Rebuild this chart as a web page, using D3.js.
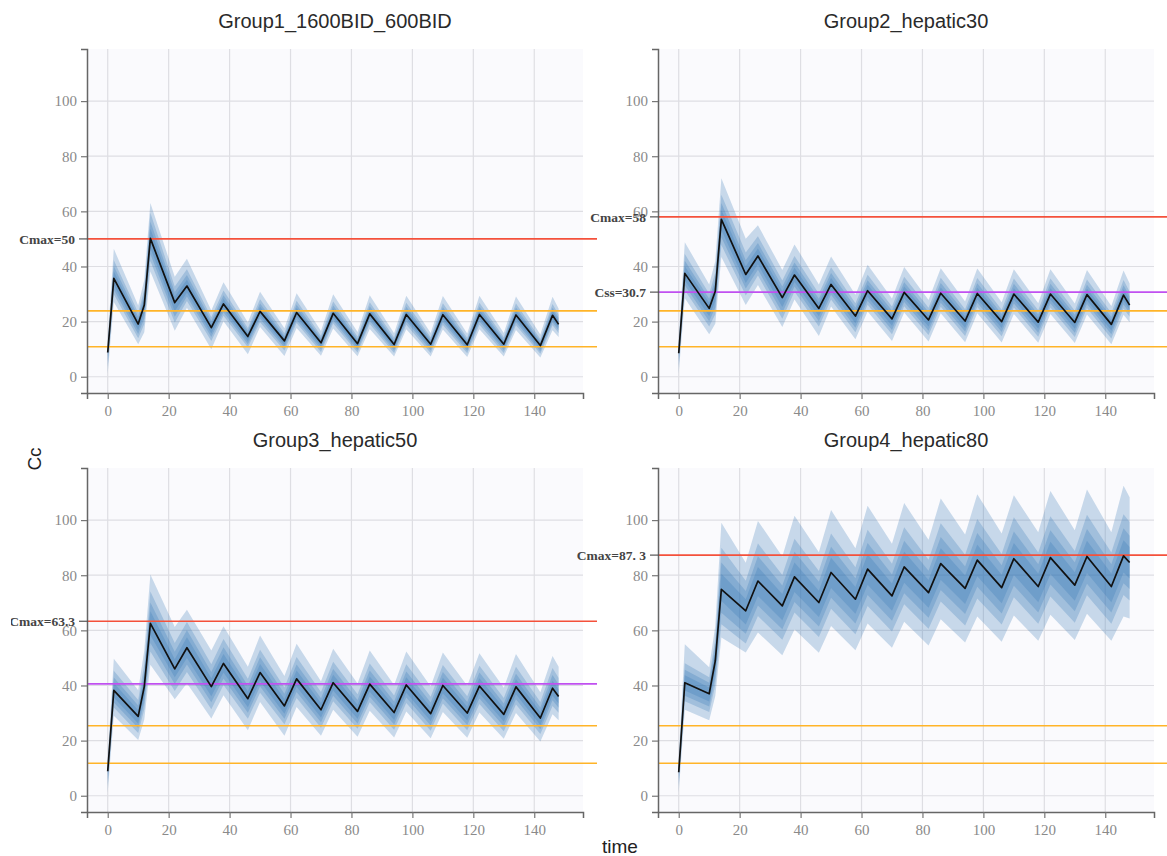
<!DOCTYPE html>
<html>
<head>
<meta charset="utf-8">
<script src="https://cdn.jsdelivr.net/npm/d3@7"></script>
<style>
  body { margin: 0; background: #ffffff; }
  svg { display: block; }
</style>
</head>
<body>
<svg id="chart" width="1167" height="856"></svg>
<script>
// ---- Data -------------------------------------------------------------
const times = [0, 2, 10, 12, 14, 22, 26, 34, 38, 46, 50, 58, 62, 70, 74, 82, 86, 94, 98, 106, 110, 118, 122, 130, 134, 142, 146, 148];
const xTicks = [0, 20, 40, 60, 80, 100, 120, 140];
const yTicks = [0, 20, 40, 60, 80, 100];
const panelTitles = ["Group1_1600BID_600BID", "Group2_hepatic30", "Group3_hepatic50", "Group4_hepatic80"];

// Group 1
const g1Q50 = [8.8, 35.7, 19.1, 26, 50.2, 26.9, 32.9, 17.8, 26.4, 14.6, 23.7, 13.0, 23.3, 12.3, 23.0, 12.0, 22.8, 11.7, 22.6, 11.8, 22.5, 11.6, 22.6, 11.8, 22.4, 11.3, 22.3, 19.0];
const g1Q95 = [14, 46.4, 25.8, 35.1, 63, 36.3, 42.8, 24.0, 34.3, 19.7, 30.8, 17.6, 30.3, 16.6, 29.9, 16.2, 29.6, 15.8, 29.4, 15.9, 29.3, 15.7, 29.4, 15.9, 29.1, 15.3, 29.0, 24.7];
const g1Q85 = [12, 42.3, 23.2, 31.6, 59.5, 32.7, 39.0, 21.6, 31.3, 17.7, 28.1, 15.8, 27.6, 14.9, 27.3, 14.6, 27.0, 14.2, 26.8, 14.3, 26.7, 14.1, 26.8, 14.3, 26.6, 13.7, 26.4, 22.5];
const g1Q75 = [10.5, 40.1, 21.8, 29.7, 56.3, 30.7, 36.9, 20.3, 29.6, 16.7, 26.6, 14.8, 26.1, 14.0, 25.8, 13.7, 25.6, 13.3, 25.4, 13.5, 25.2, 13.2, 25.4, 13.5, 25.1, 12.9, 25.0, 21.3];
const g1Q60 = [9.7, 38.2, 20.6, 28.1, 53.7, 29.1, 35.2, 19.2, 28.2, 15.8, 25.4, 14.1, 24.9, 13.3, 24.6, 13.0, 24.4, 12.6, 24.2, 12.8, 24.1, 12.5, 24.2, 12.8, 24.0, 12.2, 23.9, 20.3];
const g1Q40 = [7.3, 33.2, 16.9, 23.0, 46.7, 23.8, 30.6, 15.7, 24.6, 12.9, 22.1, 11.5, 21.7, 10.9, 21.4, 10.6, 21.2, 10.3, 21.0, 10.4, 20.9, 10.2, 21.0, 10.4, 20.9, 10.0, 20.8, 17.7];
const g1Q25 = [5.5, 31.6, 15.5, 21.1, 44.5, 21.8, 29.1, 14.4, 23.4, 11.8, 21.0, 10.5, 20.6, 10.0, 20.4, 9.7, 20.2, 9.5, 20.0, 9.6, 19.9, 9.4, 20.0, 9.6, 19.8, 9.2, 19.8, 16.8];
const g1Q15 = [3.5, 29.9, 14.0, 19.1, 42.0, 19.7, 27.5, 13.0, 22.1, 10.7, 19.8, 9.5, 19.5, 9.0, 19.3, 8.8, 19.1, 8.6, 18.9, 8.6, 18.8, 8.5, 18.9, 8.6, 18.7, 8.3, 18.7, 15.9];
const g1Q05 = [1.3, 27.1, 11.8, 16.1, 38.2, 16.7, 25.0, 10.0, 20.1, 8.2, 18.0, 7.5, 17.7, 7.6, 17.5, 7.4, 17.3, 7.3, 17.2, 7.3, 17.1, 7.2, 17.2, 7.3, 17.0, 7.0, 16.9, 14.4];

// Group 2
const g2Q50 = [8.5, 37.5, 24.8, 31, 57.1, 37.1, 43.8, 28.7, 36.9, 24.8, 33.5, 22.0, 31.2, 21.0, 30.6, 20.6, 30.3, 20.2, 30.2, 20.0, 30.0, 19.8, 30.0, 19.7, 29.8, 19.0, 29.6, 26.0];
const g2Q95 = [14, 48.8, 33.5, 41.9, 72, 50.1, 55, 38.7, 48.0, 33.5, 43.6, 29.7, 40.6, 28.4, 39.8, 27.8, 39.4, 27.3, 39.3, 27.0, 39.0, 26.7, 39.0, 26.6, 38.7, 25.7, 38.5, 33.8];
const g2Q85 = [12, 44.5, 30.1, 37.7, 66, 45.1, 51, 34.9, 43.8, 30.1, 39.7, 26.7, 37.0, 25.5, 36.3, 25.0, 35.9, 24.5, 35.8, 24.3, 35.6, 24.1, 35.6, 23.9, 35.3, 23.1, 35.1, 30.8];
const g2Q75 = [10.5, 42.1, 28.3, 35.4, 63, 42.3, 48.5, 32.7, 41.4, 28.3, 37.6, 25.1, 35.0, 24.0, 34.3, 23.5, 34.0, 23.0, 33.9, 22.8, 33.7, 22.6, 33.7, 22.5, 33.4, 21.7, 33.2, 29.2];
const g2Q60 = [9.7, 40.1, 26.8, 33.5, 60.5, 40.1, 46.5, 31.0, 39.5, 26.8, 35.8, 23.8, 33.4, 22.7, 32.7, 22.3, 32.4, 21.8, 32.3, 21.6, 32.1, 21.4, 32.1, 21.3, 31.9, 20.5, 31.7, 27.8];
const g2Q40 = [7.3, 34.9, 21.9, 27.4, 53.2, 34, 40.8, 25.3, 34.4, 21.9, 31.2, 19.4, 29.0, 18.5, 28.5, 18.2, 28.2, 17.8, 28.1, 17.7, 27.9, 17.5, 27.9, 17.4, 27.7, 16.8, 27.6, 24.2];
const g2Q25 = [5.5, 33.2, 20.1, 25.1, 50.6, 32, 38.8, 23.2, 32.7, 20.1, 29.7, 17.8, 27.6, 17.0, 27.1, 16.7, 26.8, 16.4, 26.8, 16.2, 26.6, 16.0, 26.6, 16.0, 26.4, 15.4, 26.2, 23.0];
const g2Q15 = [3.5, 31.4, 18.2, 22.7, 47.8, 29.5, 36.7, 21.0, 30.9, 18.2, 28.0, 16.1, 26.1, 15.4, 25.6, 15.1, 25.4, 14.8, 25.3, 14.7, 25.1, 14.5, 25.1, 14.4, 24.9, 13.9, 24.8, 21.8];
const g2Q05 = [1.3, 28.5, 15.4, 19.2, 43.4, 26, 33.3, 18.0, 28.0, 14.8, 25.5, 13.6, 23.7, 13.0, 23.3, 12.8, 23.0, 12.5, 23.0, 12.4, 22.8, 12.3, 22.8, 12.2, 22.6, 11.8, 22.5, 19.8];

// Group 3
const g3Q50 = [8.9, 38.2, 28.8, 39.6, 62.5, 46.0, 53.7, 39.6, 48.0, 35.2, 44.7, 32.6, 42.4, 31.2, 41.0, 30.6, 40.5, 30.2, 40.2, 29.8, 40.0, 30.0, 39.8, 29.5, 39.5, 28.2, 39.0, 36.0];
const g3Q95 = [14, 49.7, 38.3, 52.7, 80.3, 61.2, 67.5, 52.7, 61.5, 46.8, 58.1, 43.4, 55.1, 41.5, 53.3, 40.7, 52.7, 40.2, 52.3, 39.6, 52.0, 39.9, 51.7, 39.2, 51.4, 37.5, 50.7, 46.8];
const g3Q85 = [12, 45.3, 34.7, 47.7, 74.1, 55.4, 63.0, 47.7, 56.9, 42.4, 53.0, 39.3, 50.3, 37.6, 48.6, 36.8, 48.0, 36.4, 47.7, 35.9, 47.4, 36.1, 47.2, 35.5, 46.8, 34.0, 46.3, 42.7];
const g3Q75 = [10.5, 42.9, 32.7, 44.9, 70.1, 52.2, 60.0, 44.9, 53.9, 39.9, 50.2, 37.0, 47.6, 35.4, 46.0, 34.7, 45.4, 34.2, 45.1, 33.8, 44.9, 34.0, 44.7, 33.5, 44.3, 32.0, 43.8, 40.4];
const g3Q60 = [9.7, 40.9, 31.0, 42.6, 66.9, 49.5, 57.5, 42.6, 51.4, 37.9, 47.8, 35.1, 45.4, 33.6, 43.9, 33.0, 43.3, 32.5, 43.0, 32.1, 42.8, 32.3, 42.6, 31.8, 42.3, 30.4, 41.7, 38.5];
const g3Q40 = [7.3, 35.6, 26.2, 36.1, 58.2, 43.0, 50.0, 36.1, 44.7, 32.1, 41.6, 29.7, 39.5, 28.4, 38.2, 27.9, 37.7, 27.5, 37.4, 27.1, 37.2, 27.3, 37.1, 26.9, 36.8, 25.7, 36.3, 33.5];
const g3Q25 = [5.5, 33.8, 24.6, 33.9, 55.4, 40.5, 47.6, 33.9, 42.5, 30.1, 39.6, 27.9, 37.6, 26.7, 36.3, 26.2, 35.9, 25.8, 35.6, 25.5, 35.4, 25.7, 35.3, 25.2, 35.0, 24.1, 34.6, 31.9];
const g3Q15 = [3.5, 32.0, 22.8, 31.4, 52.3, 38.0, 44.9, 31.4, 40.2, 27.9, 37.4, 25.9, 35.5, 24.7, 34.3, 24.3, 33.9, 23.9, 33.6, 23.6, 33.5, 23.8, 33.3, 23.4, 33.1, 22.4, 32.6, 30.1];
const g3Q05 = [1.3, 29.0, 20.2, 27.7, 47.5, 35.0, 40.8, 28.0, 36.5, 23.8, 34.0, 21.8, 32.2, 21.8, 31.2, 21.4, 30.8, 21.1, 30.6, 20.9, 30.4, 21.0, 30.2, 20.7, 30.0, 19.7, 29.6, 27.4];

// Group 4
const g4Q50 = [8.5, 41.0, 37.0, 48.9, 74.9, 67.1, 77.9, 68.9, 79.4, 70.1, 81.0, 71.3, 82.2, 72.5, 83.0, 73.7, 84.2, 75.2, 85.5, 75.5, 86.0, 75.9, 86.4, 76.4, 86.8, 75.9, 87.0, 84.6];
const g4Q95 = [14, 55, 46.6, 61.6, 99, 84.5, 99.7, 86.8, 101.6, 88.3, 103.7, 89.8, 105.2, 91.4, 106.2, 92.9, 107.8, 94.8, 109.4, 95.1, 109, 95.6, 110.6, 96.3, 111.1, 95.6, 112.5, 108.3];
const g4Q85 = [12, 48.1, 43.0, 56.8, 90, 78.0, 91.5, 80.1, 93.2, 81.5, 95.1, 82.9, 96.5, 84.2, 97.4, 85.6, 98.9, 87.4, 100.4, 87.7, 101.0, 88.2, 101.4, 88.8, 101.9, 88.2, 102.1, 99.3];
const g4Q75 = [10.5, 45.7, 41.0, 54.1, 84.6, 74.3, 86.9, 76.3, 88.5, 77.6, 90.3, 78.9, 91.7, 80.3, 92.5, 81.6, 93.9, 83.2, 95.3, 83.6, 95.9, 84.0, 96.3, 84.6, 96.8, 84.0, 97.0, 94.3];
const g4Q60 = [9.7, 43.7, 39.3, 51.9, 80.5, 71.3, 83.0, 73.2, 84.6, 74.4, 86.3, 75.7, 87.6, 77.0, 88.5, 78.3, 89.8, 79.9, 91.1, 80.2, 91.7, 80.6, 92.1, 81.1, 92.5, 80.6, 92.7, 90.2];
const g4Q40 = [7.3, 38.2, 34.2, 45.2, 70.7, 62.1, 72.5, 63.7, 73.9, 64.8, 75.4, 66.0, 76.5, 67.1, 77.3, 68.2, 78.4, 69.6, 79.6, 69.8, 80.1, 70.2, 80.4, 70.7, 80.8, 70.2, 81.0, 78.8];
const g4Q25 = [5.5, 36.3, 32.4, 42.8, 66.4, 58.8, 69.0, 60.4, 70.3, 61.4, 71.8, 62.5, 72.8, 63.5, 73.5, 64.6, 74.6, 65.9, 75.8, 66.1, 76.2, 66.5, 76.6, 66.9, 76.9, 66.5, 77.1, 75.0];
const g4Q15 = [3.5, 34.3, 30.4, 40.2, 62.2, 55.2, 65.2, 56.6, 66.5, 57.6, 67.8, 58.6, 68.8, 59.6, 69.5, 60.6, 70.5, 61.8, 71.6, 62.1, 72.0, 62.4, 72.3, 62.8, 72.7, 62.4, 72.8, 70.8];
const g4Q05 = [1.3, 31.2, 27.4, 36.2, 57.4, 52, 59.2, 51.0, 60.3, 51.9, 61.6, 52.8, 62.5, 53.7, 63.1, 54.5, 64.0, 55.6, 65.0, 55.9, 65.4, 56.2, 65.7, 56.5, 66.0, 56.2, 65, 64.3];

// Reference levels per panel
const cmaxValues = [50, 58, 63.3, 87.3];
const cmaxLabels = ["Cmax=50", "Cmax=58", "Cmax=63.3", "Cmax=87. 3"];
const cssValues = [null, 30.7, 40.6, null];
const cssLabels = [null, "Css=30.7", null, null];
const targetHigh = [23.9, 23.9, 25.4, 25.4];
const targetLow = [10.9, 10.9, 11.8, 11.8];

// ---- Layout -----------------------------------------------------------
const W = 496, H = 344, refLen = 510;
const origins = [[87, 49], [658, 49], [87, 468], [658, 468]];

const panels = [
  { median: g1Q50, bands: [[g1Q05, g1Q95], [g1Q15, g1Q85], [g1Q25, g1Q75], [g1Q40, g1Q60]] },
  { median: g2Q50, bands: [[g2Q05, g2Q95], [g2Q15, g2Q85], [g2Q25, g2Q75], [g2Q40, g2Q60]] },
  { median: g3Q50, bands: [[g3Q05, g3Q95], [g3Q15, g3Q85], [g3Q25, g3Q75], [g3Q40, g3Q60]] },
  { median: g4Q50, bands: [[g4Q05, g4Q95], [g4Q15, g4Q85], [g4Q25, g4Q75], [g4Q40, g4Q60]] }
];

const x = d3.scaleLinear().domain([-6.8, 156]).range([0, W]);
const y = d3.scaleLinear().domain([-5.9, 118.9]).range([H, 0]);

const svg = d3.select("#chart");
svg.append("defs").append("clipPath").attr("id", "pageClip")
  .append("rect").attr("x", 11).attr("y", 0).attr("width", 1156).attr("height", 856);

const root = svg.append("g").attr("clip-path", "url(#pageClip)");

const serif = "'Liberation Serif', 'Times New Roman', serif";
const sans = "'Liberation Sans', Arial, Helvetica, sans-serif";

panels.forEach((p, i) => {
  const [ox, oy] = origins[i];
  const g = root.append("g").attr("transform", `translate(${ox},${oy})`);

  // plot background
  g.append("rect").attr("x", 0).attr("y", 0).attr("width", W).attr("height", H)
    .attr("fill", "#fafafd");

  // grid
  g.append("g").selectAll("line").data(xTicks).join("line")
    .attr("x1", d => x(d)).attr("x2", d => x(d)).attr("y1", 0).attr("y2", H)
    .attr("stroke", "#dedee3").attr("stroke-width", 1.2);
  g.append("g").selectAll("line").data(yTicks).join("line")
    .attr("x1", 0).attr("x2", W).attr("y1", d => y(d)).attr("y2", d => y(d))
    .attr("stroke", "#dedee3").attr("stroke-width", 1.2);

  // quantile bands, outermost first
  p.bands.forEach(([lo, hi]) => {
    const area = d3.area()
      .x((d, k) => x(times[k]))
      .y0((d, k) => y(lo[k]))
      .y1((d, k) => y(hi[k]));
    g.append("path").datum(times).attr("d", area)
      .attr("fill", "#2f74b5").attr("fill-opacity", 0.25);
  });

  // reference levels
  const hline = (v, color) => g.append("line")
    .attr("x1", 0).attr("x2", refLen).attr("y1", y(v)).attr("y2", y(v))
    .attr("stroke", color).attr("stroke-width", 1.6);
  hline(targetHigh[i], "#ffb428");
  hline(targetLow[i], "#ffb428");
  if (cssValues[i] !== null) hline(cssValues[i], "#c050f0");
  hline(cmaxValues[i], "#f4513b");

  // median profile
  const line = d3.line().x((d, k) => x(times[k])).y((d, k) => y(p.median[k]));
  g.append("path").datum(times).attr("d", line)
    .attr("fill", "none").attr("stroke", "#111").attr("stroke-width", 1.7)
    .attr("stroke-linejoin", "round");

  // axes
  const yAxis = g.append("g").call(d3.axisLeft(y).tickValues(yTicks).tickSize(6).tickPadding(4));
  const xAxis = g.append("g").attr("transform", `translate(0,${H})`)
    .call(d3.axisBottom(x).tickValues(xTicks).tickSize(6).tickPadding(6));
  [yAxis, xAxis].forEach(a => {
    a.select(".domain").attr("stroke", "#666").attr("stroke-width", 1.5);
    a.selectAll(".tick line").attr("stroke", "#777").attr("stroke-width", 1.2);
    a.selectAll(".tick text").attr("fill", "#8a8a8a")
      .style("font-family", serif).style("font-size", "15px");
  });

  // labelled levels on the y axis
  const levelLabel = (v, text) => {
    g.append("line").attr("x1", -8).attr("x2", 1).attr("y1", y(v)).attr("y2", y(v))
      .attr("stroke", "#555").attr("stroke-width", 1.2);
    g.append("text").attr("x", -12).attr("y", y(v)).attr("dy", "0.35em")
      .attr("text-anchor", "end").attr("fill", "#444")
      .style("font-family", serif).style("font-weight", "bold").style("font-size", "13.5px")
      .text(text);
  };
  levelLabel(cmaxValues[i], cmaxLabels[i]);
  if (cssLabels[i] !== null) levelLabel(cssValues[i], cssLabels[i]);

  // panel title
  g.append("text").attr("x", W / 2).attr("y", -21).attr("text-anchor", "middle")
    .attr("fill", "#2a2a2a").style("font-family", sans).style("font-size", "20px")
    .text(panelTitles[i]);
});

// shared axis titles
root.append("text").attr("transform", "translate(41,459) rotate(-90)")
  .attr("text-anchor", "middle").attr("fill", "#222")
  .style("font-family", sans).style("font-size", "19px").text("Cc");
root.append("text").attr("x", 620).attr("y", 853).attr("text-anchor", "middle")
  .attr("fill", "#222").style("font-family", sans).style("font-size", "19px").text("time");
</script>
</body>
</html>
